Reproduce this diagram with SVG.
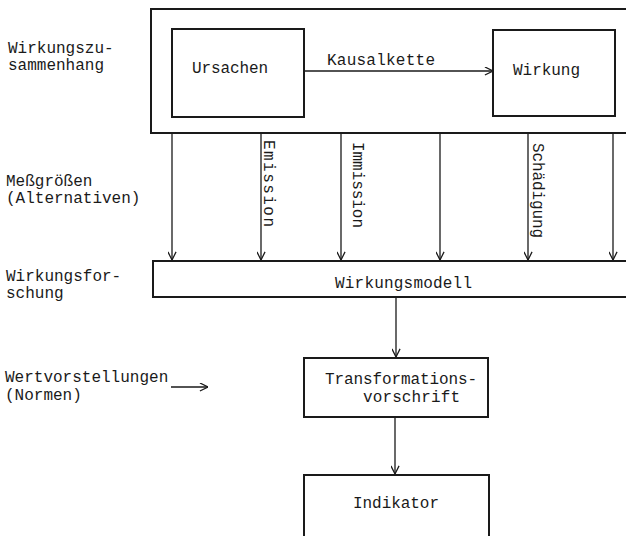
<svg xmlns="http://www.w3.org/2000/svg" width="626" height="536" viewBox="0 0 626 536">
<defs>
<style>
text{font-family:"Liberation Mono","Courier New",monospace;font-size:16px;fill:#1a1a1a}
.box{fill:none;stroke:#1a1a1a;stroke-width:2}
.conn{fill:none;stroke:#1a1a1a;stroke-width:1.3;marker-end:url(#arr)}
</style>
<marker id="arr" viewBox="0 0 10 10" refX="10" refY="5" markerWidth="9" markerHeight="9" markerUnits="userSpaceOnUse" orient="auto">
<path d="M1,0.5 L10,5 L1,9.5" fill="none" stroke="#1a1a1a" stroke-width="1.4"/>
</marker>
</defs>
<rect width="626" height="536" fill="#ffffff"/>

<g id="labels">
<text x="8" y="53">Wirkungszu-</text>
<text x="8" y="70">sammenhang</text>
<text x="6" y="186">Meßgrößen</text>
<text x="6" y="203">(Alternativen)</text>
<text x="6" y="281">Wirkungsfor-</text>
<text x="6" y="298">schung</text>
<text x="5" y="382">Wertvorstellungen</text>
<text x="5" y="400">(Normen)</text>
</g>

<g id="wirkungszusammenhang">
<rect class="box" x="151" y="9" width="480" height="124"/>
</g>
<g id="ursachen">
<rect class="box" x="172" y="29" width="132" height="88"/>
<text x="192" y="73" textLength="76">Ursachen</text>
</g>
<g id="wirkung">
<rect class="box" x="493" y="30" width="122" height="86"/>
<text x="513" y="75" textLength="67">Wirkung</text>
</g>
<g id="wirkungsmodell">
<rect class="box" x="153" y="261" width="480" height="36"/>
<text x="335" y="288" textLength="137">Wirkungsmodell</text>
</g>
<g id="transformationsvorschrift">
<rect class="box" x="304" y="358" width="184" height="59"/>
<text x="325" y="384" textLength="152">Transformations-</text>
<text x="363" y="402" textLength="97">vorschrift</text>
</g>
<g id="indikator">
<rect class="box" x="304" y="475" width="185" height="80"/>
<text x="353" y="508" textLength="86">Indikator</text>
</g>

<g id="connectors">
<line class="conn" x1="304" y1="71" x2="493" y2="71"/>
<text x="327" y="65" textLength="108">Kausalkette</text>
<line class="conn" x1="172" y1="134" x2="172" y2="260"/>
<line class="conn" x1="261" y1="134" x2="261" y2="260"/>
<line class="conn" x1="341" y1="134" x2="341" y2="260"/>
<line class="conn" x1="440" y1="134" x2="440" y2="260"/>
<line class="conn" x1="528" y1="134" x2="528" y2="260"/>
<line class="conn" x1="613" y1="134" x2="613" y2="260"/>
<text x="264" y="140" transform="rotate(90 264 140)" textLength="87">Emission</text>
<text x="353" y="142" transform="rotate(90 353 142)" textLength="86">Immission</text>
<text x="533" y="143" transform="rotate(90 533 143)" textLength="95">Schädigung</text>
<line class="conn" x1="396" y1="298" x2="396" y2="357"/>
<line class="conn" x1="395" y1="418" x2="395" y2="474"/>
<line class="conn" x1="171" y1="387" x2="208" y2="387"/>
</g>
</svg>
